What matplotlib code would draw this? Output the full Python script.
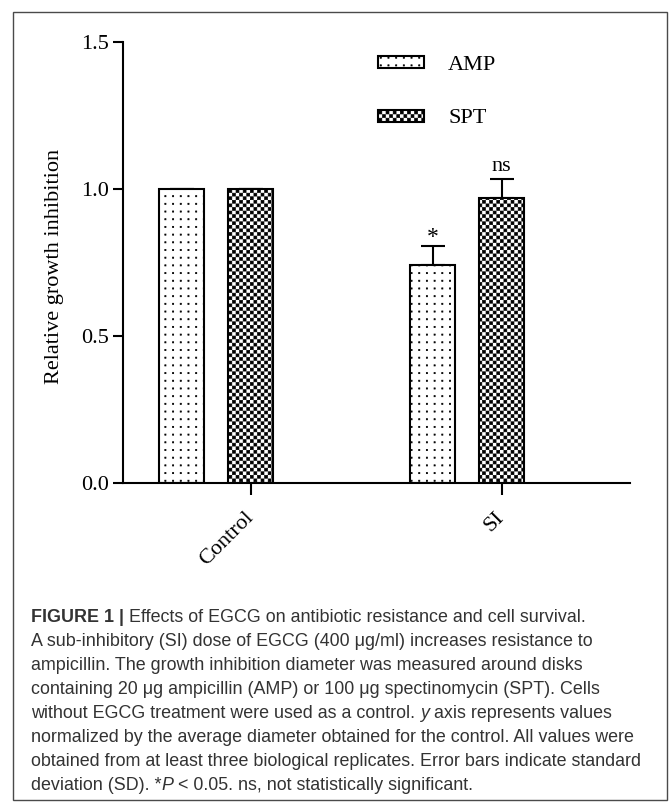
import warnings
import numpy as np
import matplotlib
matplotlib.use('Agg')
import matplotlib.pyplot as plt
import matplotlib.hatch as mhatch
from matplotlib.path import Path
from matplotlib.patches import Rectangle
from matplotlib import font_manager

warnings.filterwarnings('ignore')

# data
groups = ['Control', 'SI']
amp_vals = [1.0, 0.741]
spt_vals = [1.0, 0.968]
amp_err = [0.0, 0.064]
spt_err = [0.0, 0.065]
amp_marks = ['', '*']
spt_marks = ['', 'ns']
y_ticks = [0.0, 0.5, 1.0, 1.5]
y_ticklabels = ['0.0', '0.5', '1.0', '1.5']

caption = [
    [("FIGURE 1 |", {'weight': 'bold'}), (" Effects of EGCG on antibiotic resistance and cell survival.", {})],
    [("A sub-inhibitory (SI) dose of EGCG (400 \u03bcg/ml) increases resistance to", {})],
    [("ampicillin. The growth inhibition diameter was measured around disks", {})],
    [("containing 20 \u03bcg ampicillin (AMP) or 100 \u03bcg spectinomycin (SPT). Cells", {})],
    [("without EGCG treatment were used as a control. ", {}), ("y", {'style': 'italic'}), (" axis represents values", {})],
    [("normalized by the average diameter obtained for the control. All values were", {})],
    [("obtained from at least three biological replicates. Error bars indicate standard", {})],
    [("deviation (SD). *", {}), ("P", {'style': 'italic'}), (" < 0.05. ns, not statistically significant.", {})],
]


# custom fill patterns: 'd' = dotted grid, 'c' = fine checkerboard
class DotHatch(mhatch.HatchPatternBase):
    def __init__(self, hatch, density):
        self.n = 13 * hatch.count('d')
        self.num_vertices = self.n * self.n * 5

    def set_vertices_and_codes(self, vertices, codes):
        n = self.n
        s = 0.006
        c = (np.arange(n) + 0.5) / n
        sq = np.array([[-s, -s], [s, -s], [s, s], [-s, s], [-s, -s]])
        vertices[:] = np.concatenate([sq + [cx, cy] for cy in c for cx in c])
        codes[:] = np.tile([Path.MOVETO, Path.LINETO, Path.LINETO, Path.LINETO, Path.CLOSEPOLY], n * n)


class CheckerHatch(mhatch.HatchPatternBase):
    def __init__(self, hatch, density):
        self.n = 28 * hatch.count('c')
        self.cells = [(i, j) for i in range(self.n) for j in range(self.n) if (i + j) % 2 == 0]
        self.num_vertices = len(self.cells) * 5

    def set_vertices_and_codes(self, vertices, codes):
        n = self.n
        s = (1.0 / n - 0.0069) / 2
        sq = np.array([[-s, -s], [s, -s], [s, s], [-s, s], [-s, -s]])
        vertices[:] = np.concatenate([sq + [(i + 0.5) / n, (j + 0.5) / n] for i, j in self.cells])
        codes[:] = np.tile([Path.MOVETO, Path.LINETO, Path.LINETO, Path.LINETO, Path.CLOSEPOLY], len(self.cells))


mhatch._hatch_types.extend([DotHatch, CheckerHatch])

plt.rcParams['font.family'] = ['Liberation Serif', 'DejaVu Serif']
plt.rcParams['hatch.linewidth'] = 0.5
plt.rcParams['hatch.color'] = 'black'

W, H = 672, 810
fig = plt.figure(figsize=(W / 100, H / 100), dpi=100)
ax = fig.add_axes([123.3 / W, 1 - 483 / H, (630 - 123.3) / W, (483 - 41.7) / H])

x = np.arange(len(groups))
off = 0.274
w = 0.181
ax.bar(x - off, amp_vals, w, color='white', edgecolor='black', linewidth=1.5, hatch='d', label='AMP', zorder=2)
ax.bar(x, spt_vals, w, color='white', edgecolor='black', linewidth=1.5, hatch='c', label='SPT', zorder=2)

ax.errorbar(x - off, amp_vals, yerr=[np.zeros(len(x)), amp_err], fmt='none', ecolor='black',
            elinewidth=1.5, capsize=8.3, capthick=1.5, zorder=1)
ax.errorbar(x, spt_vals, yerr=[np.zeros(len(x)), spt_err], fmt='none', ecolor='black',
            elinewidth=1.5, capsize=8.3, capthick=1.5, zorder=1)

for i in range(len(x)):
    if amp_marks[i]:
        ax.annotate(amp_marks[i], (x[i] - off, amp_vals[i] + amp_err[i]), xytext=(0, -1),
                    textcoords='offset points', ha='center', va='bottom', fontsize=17)
    if spt_marks[i]:
        ax.annotate(spt_marks[i], (x[i], spt_vals[i] + spt_err[i]), xytext=(0, 2),
                    textcoords='offset points', ha='center', va='bottom', fontsize=16)

ax.set_xlim(-0.507, 1.512)
ax.set_ylim(0, 1.5)
for sp in ['top', 'right']:
    ax.spines[sp].set_visible(False)
for sp in ['left', 'bottom']:
    ax.spines[sp].set_linewidth(1.5)

ax.set_yticks(y_ticks, y_ticklabels)
ax.set_xticks(x, groups)
ax.tick_params(axis='y', length=7, width=1.5, pad=3.5, labelsize=16)
ax.tick_params(axis='x', length=8.6, width=1.5, pad=14, labelsize=16)
plt.setp(ax.get_xticklabels(), rotation=45, ha='right', va='center', rotation_mode='anchor')

fig.text(55 / W, 1 - 266 / H, 'Relative growth inhibition', rotation=90, ha='center', va='center', fontsize=16)

ax.legend(frameon=False, loc='upper left', bbox_to_anchor=(0.503, 0.967), fontsize=16,
          handlelength=2.05, handleheight=0.45, handletextpad=1.1, labelspacing=1.54,
          borderpad=0, borderaxespad=0)

# outer frame
fig.add_artist(Rectangle((13 / W, 1 - 800 / H), (667 - 13) / W, (800 - 12) / H, transform=fig.transFigure,
                         fill=False, edgecolor='#4a4a4a', linewidth=1.0))

# caption
names = {f.name for f in font_manager.fontManager.ttflist}
cap_font = 'Liberation Sans Narrow' if 'Liberation Sans Narrow' in names else 'Liberation Sans'
cap_fs = 14.5 if cap_font == 'Liberation Sans Narrow' else 12.9
renderer = fig.canvas.get_renderer()
for k, parts in enumerate(caption):
    xp = 31
    yp = 622 + 24 * k
    for txt, kw in parts:
        t = fig.text(xp / W, 1 - yp / H, txt, fontsize=cap_fs, family=cap_font, color='#333333',
                     ha='left', va='baseline', **kw)
        xp = t.get_window_extent(renderer).x1

fig.savefig('out.png', dpi=100)
